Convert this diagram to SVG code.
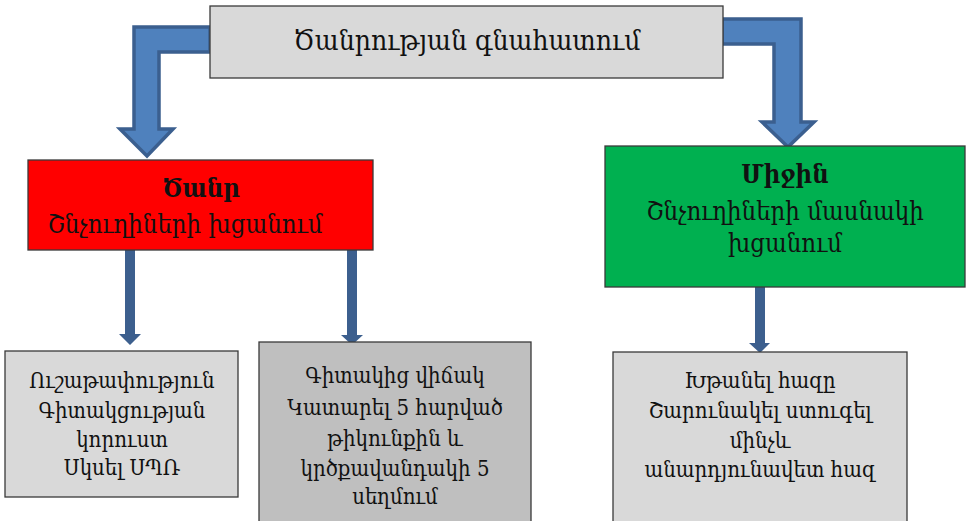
<svg xmlns="http://www.w3.org/2000/svg" width="970" height="521" viewBox="0 0 970 521">
<style>
.box{stroke:#3a3a3a;stroke-width:1.3}
.t{font-family:"DejaVu Serif Condensed","DejaVu Serif",serif;font-stretch:condensed;fill:#111;text-anchor:middle}
.b{font-weight:bold}
.m{font-size:25.5px}
.s{font-size:22px}
.big{stroke:#3B5F8F;stroke-width:3.5;fill:#4F81BD;stroke-linejoin:miter}
.sm{fill:#3C5F8E}
</style>
<rect width="970" height="521" fill="#fff"/>
<g id="connectors">
<path class="big" d="M210,27 L134,27 L134,129 L120,129 L147,156 L173,129 L159,129 L159,52 L210,52 Z"/>
<path class="big" d="M722,19 L801,19 L801,122 L814,122 L788,147 L762,122 L774,122 L774,44 L722,44 Z"/>
<path class="sm" d="M125,250 L135,250 L135,334 L141,334 L130,345 L119,334 L125,334 Z"/>
<path class="sm" d="M347,250 L357,250 L357,335 L363,335 L352,345 L341,335 L347,335 Z"/>
<path class="sm" d="M755,287 L765,287 L765,343 L770,343 L760,353 L749,343 L755,343 Z"/>
</g>
<g id="top">
<rect class="box" x="210" y="6" width="513" height="72" fill="#D9D9D9"/>
<text class="t" x="467" y="50" font-size="28">Ծանրության գնահատում</text>
</g>
<g id="severe">
<rect class="box" x="28" y="160" width="345" height="90" fill="#FF0000"/>
<text class="t b m" x="201" y="197">Ծանր</text>
<text class="t m" x="185" y="233">Շնչուղիների խցանում</text>
</g>
<g id="moderate">
<rect class="box" x="605" y="146" width="360" height="141" fill="#00B050"/>
<text class="t b m" x="785" y="183">Միջին</text>
<text class="t m" x="785" y="220">Շնչուղիների մասնակի</text>
<text class="t m" x="785" y="252">խցանում</text>
</g>
<g id="unconscious">
<rect class="box" x="5" y="351" width="233" height="146" fill="#D9D9D9"/>
<text class="t s" x="122" y="388">Ուշաթափություն</text>
<text class="t s" x="122" y="418">Գիտակցության</text>
<text class="t s" x="122" y="447">կորուստ</text>
<text class="t s" x="122" y="475">Սկսել ՍՊՌ</text>
</g>
<g id="conscious">
<rect class="box" x="259" y="342" width="272" height="185" fill="#BFBFBF"/>
<text class="t s" x="395" y="383">Գիտակից վիճակ</text>
<text class="t s" x="395" y="415">Կատարել 5 հարված</text>
<text class="t s" x="395" y="446">թիկունքին և</text>
<text class="t s" x="395" y="476">կրծքավանդակի 5</text>
<text class="t s" x="395" y="504">սեղմում</text>
</g>
<g id="cough">
<rect class="box" x="613" y="352" width="294" height="175" fill="#D9D9D9"/>
<text class="t s" x="760" y="388">Խթանել հազը</text>
<text class="t s" x="760" y="418">Շարունակել ստուգել</text>
<text class="t s" x="760" y="448">մինչև</text>
<text class="t s" x="760" y="477">անարդյունավետ հազ</text>
</g>
</svg>
